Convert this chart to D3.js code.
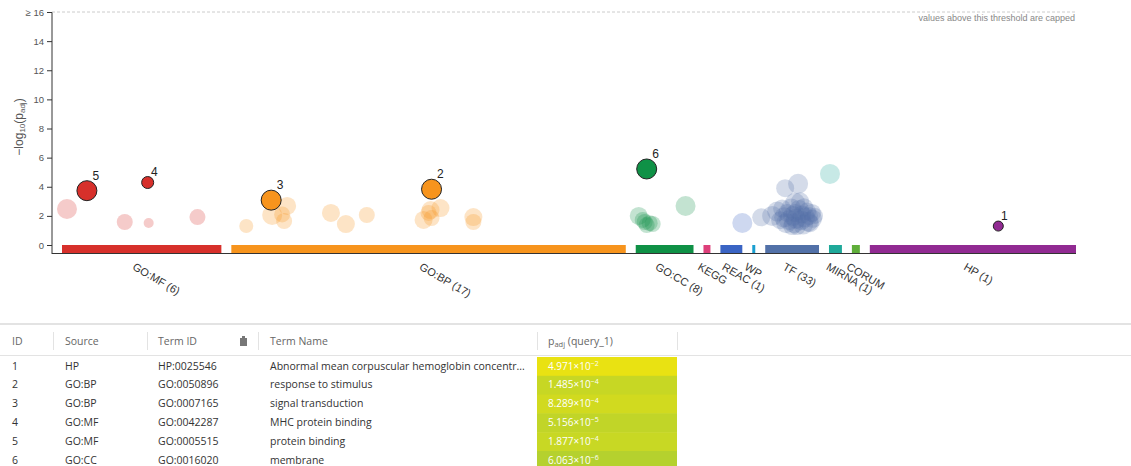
<!DOCTYPE html>
<html><head><meta charset="utf-8">
<script src="https://cdn.jsdelivr.net/npm/d3@7"></script>
<style>
html,body{margin:0;padding:0;background:#fff;}
svg{display:block;font-family:"Liberation Sans",Arial,sans-serif;}
.tbl text{font-family:"Open Sans","Noto Sans",sans-serif;}
</style></head><body>
<svg id="c" width="1131" height="466"></svg>
<script>
// ---- data ----
const sources = ['GO:MF','GO:BP','GO:CC','KEGG','REAC','WP','TF','MIRNA','CORUM','HP'];
const sourceLabels = ['GO:MF (6)','GO:BP (17)','GO:CC (8)','KEGG','REAC (1)','WP','TF (33)','MIRNA (1)','CORUM','HP (1)'];
const sourceSizes = [160,396,58,7,22,3,54,13,8,207];
const sourceColors = ['#d7302b','#f7941d','#0f9146','#dd3f7a','#3a64c4','#1a9fd0','#5271a8','#1fa99a','#5fae3a','#912a92'];
const yTicks = [0,2,4,6,8,10,12,14,16];
const yTickLabels = ['0','2','4','6','8','10','12','14','≥ 16'];

// term points: source, position within source, -log10(padj), term size, highlight id
const termSource = [
 'GO:MF','GO:MF','GO:MF','GO:MF','GO:MF','GO:MF',
 'GO:BP','GO:BP','GO:BP','GO:BP','GO:BP','GO:BP','GO:BP','GO:BP','GO:BP','GO:BP','GO:BP','GO:BP','GO:BP','GO:BP','GO:BP','GO:BP','GO:BP',
 'GO:CC','GO:CC','GO:CC','GO:CC','GO:CC','GO:CC','GO:CC','GO:CC',
 'REAC',
 'TF','TF','TF','TF','TF','TF','TF','TF','TF','TF','TF','TF','TF','TF','TF','TF','TF','TF','TF','TF','TF','TF','TF','TF','TF','TF','TF','TF','TF','TF','TF','TF','TF',
 'MIRNA','HP'];
const termPos = [
 5,25,63,86,87,136,
 15,40,56,41,51,53,100,115,136,201,200,210,193,201,198,243,243,
 11,3,9,14,17,11,50,7,
 22,
 -4,7,12,15,17,19,21,22,20,24,26,27,28,29,30,30,31,33,32,34,35,36,37,38,39,40,42,43,44,45,47,48,50,
 1,129];
const termValue = [
 2.47,3.73,1.58,4.29,1.51,1.92,
 1.30,3.08,2.68,2.06,2.10,1.65,2.20,1.44,2.06,3.83,2.40,2.54,1.72,1.85,2.20,1.92,1.58,
 5.22,2.00,1.58,1.50,1.44,1.37,2.68,1.72,
 1.51,
 1.9,2.0,2.3,1.7,2.5,1.9,1.5,2.2,3.9,1.7,2.5,1.3,2.0,1.5,2.9,2.2,1.8,4.2,1.3,2.4,3.0,1.7,2.1,1.4,2.6,1.9,2.3,1.6,2.0,1.5,2.2,1.8,2.0,
 4.88,1.30];
const termSize = [
 10,10,8,6,5,8,
 7,10,9,10,8,8,9,9,8,10,9,9,9,8,8,9,8,
 10,9,8,8,8,8,10,8,
 10,
 9,10,10,9,9,10,10,9,9,10,10,9,10,10,10,9,10,10,9,10,9,10,9,10,9,10,9,10,9,9,9,9,8,
 10,5];
const termHighlight = [
 0,5,0,4,0,0,
 0,3,0,0,0,0,0,0,0,2,0,0,0,0,0,0,0,
 6,0,0,0,0,0,0,0,
 0,
 0,0,0,0,0,0,0,0,0,0,0,0,0,0,0,0,0,0,0,0,0,0,0,0,0,0,0,0,0,0,0,0,0,
 0,1];

// table
const tblIds = ['1','2','3','4','5','6'];
const tblSource = ['HP','GO:BP','GO:BP','GO:MF','GO:MF','GO:CC'];
const tblTermId = ['HP:0025546','GO:0050896','GO:0007165','GO:0042287','GO:0005515','GO:0016020'];
const tblTermName = ['Abnormal mean corpuscular hemoglobin concentr...','response to stimulus','signal transduction','MHC protein binding','protein binding','membrane'];
const tblMant = ['4.971','1.485','8.289','5.156','1.877','6.063'];
const tblExp = [-2,-4,-4,-5,-4,-6];

// ---- drawing ----
const svg = d3.select('#c');
const gap = 10;
let cum = 0; const starts = [];
sourceSizes.forEach((s,i)=>{starts.push(cum); cum += s + (i<sourceSizes.length-1?gap:0);});
const x = d3.scaleLinear().domain([0,cum]).range([62,1076]);
const y = d3.scaleLinear().domain([0,16]).range([245,12]);
const r = d3.scaleLinear().domain([0,10]).range([0,10]);
const srcIdx = s => sources.indexOf(s);

// axis
const yAxis = d3.axisLeft(y).tickValues(yTicks).tickFormat((d,i)=>yTickLabels[i]).tickSize(5).tickSizeOuter(0);
const ga = svg.append('g').attr('transform','translate(52,0)').call(yAxis);
ga.select('.domain').attr('stroke','#333').attr('d','M0,12V254');
ga.selectAll('.tick line').attr('stroke','#333');
ga.selectAll('.tick text').attr('fill','#555').style('font-size','9.5px').style('font-family','"Liberation Sans",Arial,sans-serif');

// threshold line
svg.append('line').attr('x1',52).attr('x2',1076).attr('y1',y(16)).attr('y2',y(16))
  .attr('stroke','#ccc').attr('stroke-dasharray','3,2');
svg.append('text').attr('x',1075).attr('y',21).attr('text-anchor','end')
  .attr('fill','#888').style('font-size','9px').text('values above this threshold are capped');

// y label
const yl = svg.append('text').attr('transform','translate(23,127) rotate(-90)').attr('text-anchor','middle')
  .attr('fill','#555').style('font-size','12px');
yl.append('tspan').text('−log');
yl.append('tspan').attr('dy',2).style('font-size','8px').text('10');
yl.append('tspan').attr('dy',-2).text('(p');
yl.append('tspan').attr('dy',2).style('font-size','8px').text('adj');
yl.append('tspan').attr('dy',-2).text(')');

// baseline
svg.append('line').attr('x1',52).attr('x2',1076).attr('y1',253.5).attr('y2',253.5).attr('stroke','#333');

// source bars
sources.forEach((s,i)=>{
  svg.append('rect').attr('x',x(starts[i])).attr('width',x(starts[i]+sourceSizes[i])-x(starts[i]))
    .attr('y',245).attr('height',8).attr('fill',sourceColors[i]);
  const cx = x(starts[i]+sourceSizes[i]/2);
  svg.append('text').attr('transform',`translate(${cx-10},${269}) rotate(30)`)
    .attr('fill','#333').style('font-size','11px').text(sourceLabels[i]);
});

// points
const pts = termSource.map((s,i)=>({s, i:srcIdx(s), pos:termPos[i], v:termValue[i], size:termSize[i], h:termHighlight[i]}));
const faded = pts.filter(p=>!p.h), hl = pts.filter(p=>p.h);
svg.append('g').selectAll('circle').data(faded).join('circle')
  .attr('cx',p=>x(starts[p.i]+p.pos)).attr('cy',p=>y(p.v)).attr('r',p=>r(p.size))
  .attr('fill',p=>sourceColors[p.i]).attr('fill-opacity',0.25);
const gh = svg.append('g');
gh.selectAll('circle').data(hl).join('circle')
  .attr('cx',p=>x(starts[p.i]+p.pos)).attr('cy',p=>y(p.v)).attr('r',p=>r(p.size))
  .attr('fill',p=>sourceColors[p.i]).attr('stroke','#222').attr('stroke-width',1);
gh.selectAll('text').data(hl).join('text')
  .attr('x',p=>x(starts[p.i]+p.pos)+r(p.size)*0.55).attr('y',p=>y(p.v)-r(p.size)-1)
  .attr('fill','#222').style('font-size','12px').text(p=>p.h);

// ---- table ----
const t = svg.append('g').attr('class','tbl');
t.append('rect').attr('x',0).attr('y',323).attr('width',1131).attr('height',2).attr('fill','#e3e3e3');
t.append('line').attr('x1',0).attr('x2',1131).attr('y1',355.5).attr('y2',355.5).attr('stroke','#e3e3e3');
[53,147,258,537,677].forEach(sx=>t.append('line').attr('x1',sx+0.5).attr('x2',sx+0.5).attr('y1',332).attr('y2',350).attr('stroke','#e3e3e3'));
const hdrY = 345;
const hdr = [['ID',12],['Source',65],['Term ID',158],['Term Name',270]];
hdr.forEach(([h,hx])=>t.append('text').attr('x',hx).attr('y',hdrY).attr('fill','#666').style('font-size','10.5px').text(h));
const ph = t.append('text').attr('x',548).attr('y',hdrY).attr('fill','#666').style('font-size','10.5px');
ph.append('tspan').text('p');
ph.append('tspan').attr('dy',2).style('font-size','7.5px').text('adj');
ph.append('tspan').attr('dy',-2).text(' (query_1)');
// clipboard icon
const ic = t.append('g').attr('transform','translate(239,336)').attr('fill','#777');
ic.append('rect').attr('x',1).attr('y',2).attr('width',7).attr('height',8);
ic.append('rect').attr('x',3).attr('y',0).attr('width',3).attr('height',3);

const rowY = d3.scaleLinear().domain([0,1]).range([357,375.8]);
const cScale = d3.scaleLinear().domain([0,16]).range(['#fae709','#25a57b']);
tblIds.forEach((id,i)=>{
  const y0 = rowY(i), yc = y0+12.5;
  const lp = -tblExp[i] - Math.log10(+tblMant[i]);
  t.append('rect').attr('x',537).attr('y',y0).attr('width',140).attr('height',rowY(1)-rowY(0)+0.5).attr('fill',cScale(lp));
  [[id,12],[tblSource[i],65],[tblTermId[i],158],[tblTermName[i],270]].forEach(([v,vx])=>
    t.append('text').attr('x',vx).attr('y',yc).attr('fill','#333').style('font-size','10.5px').text(v));
  const pt = t.append('text').attr('x',548).attr('y',yc).attr('fill','#fff').style('font-size','10px');
  pt.append('tspan').text(tblMant[i]+'×10');
  pt.append('tspan').attr('dy',-4).style('font-size','7px').text(String(tblExp[i]).replace('-','−'));
});
</script></body></html>
